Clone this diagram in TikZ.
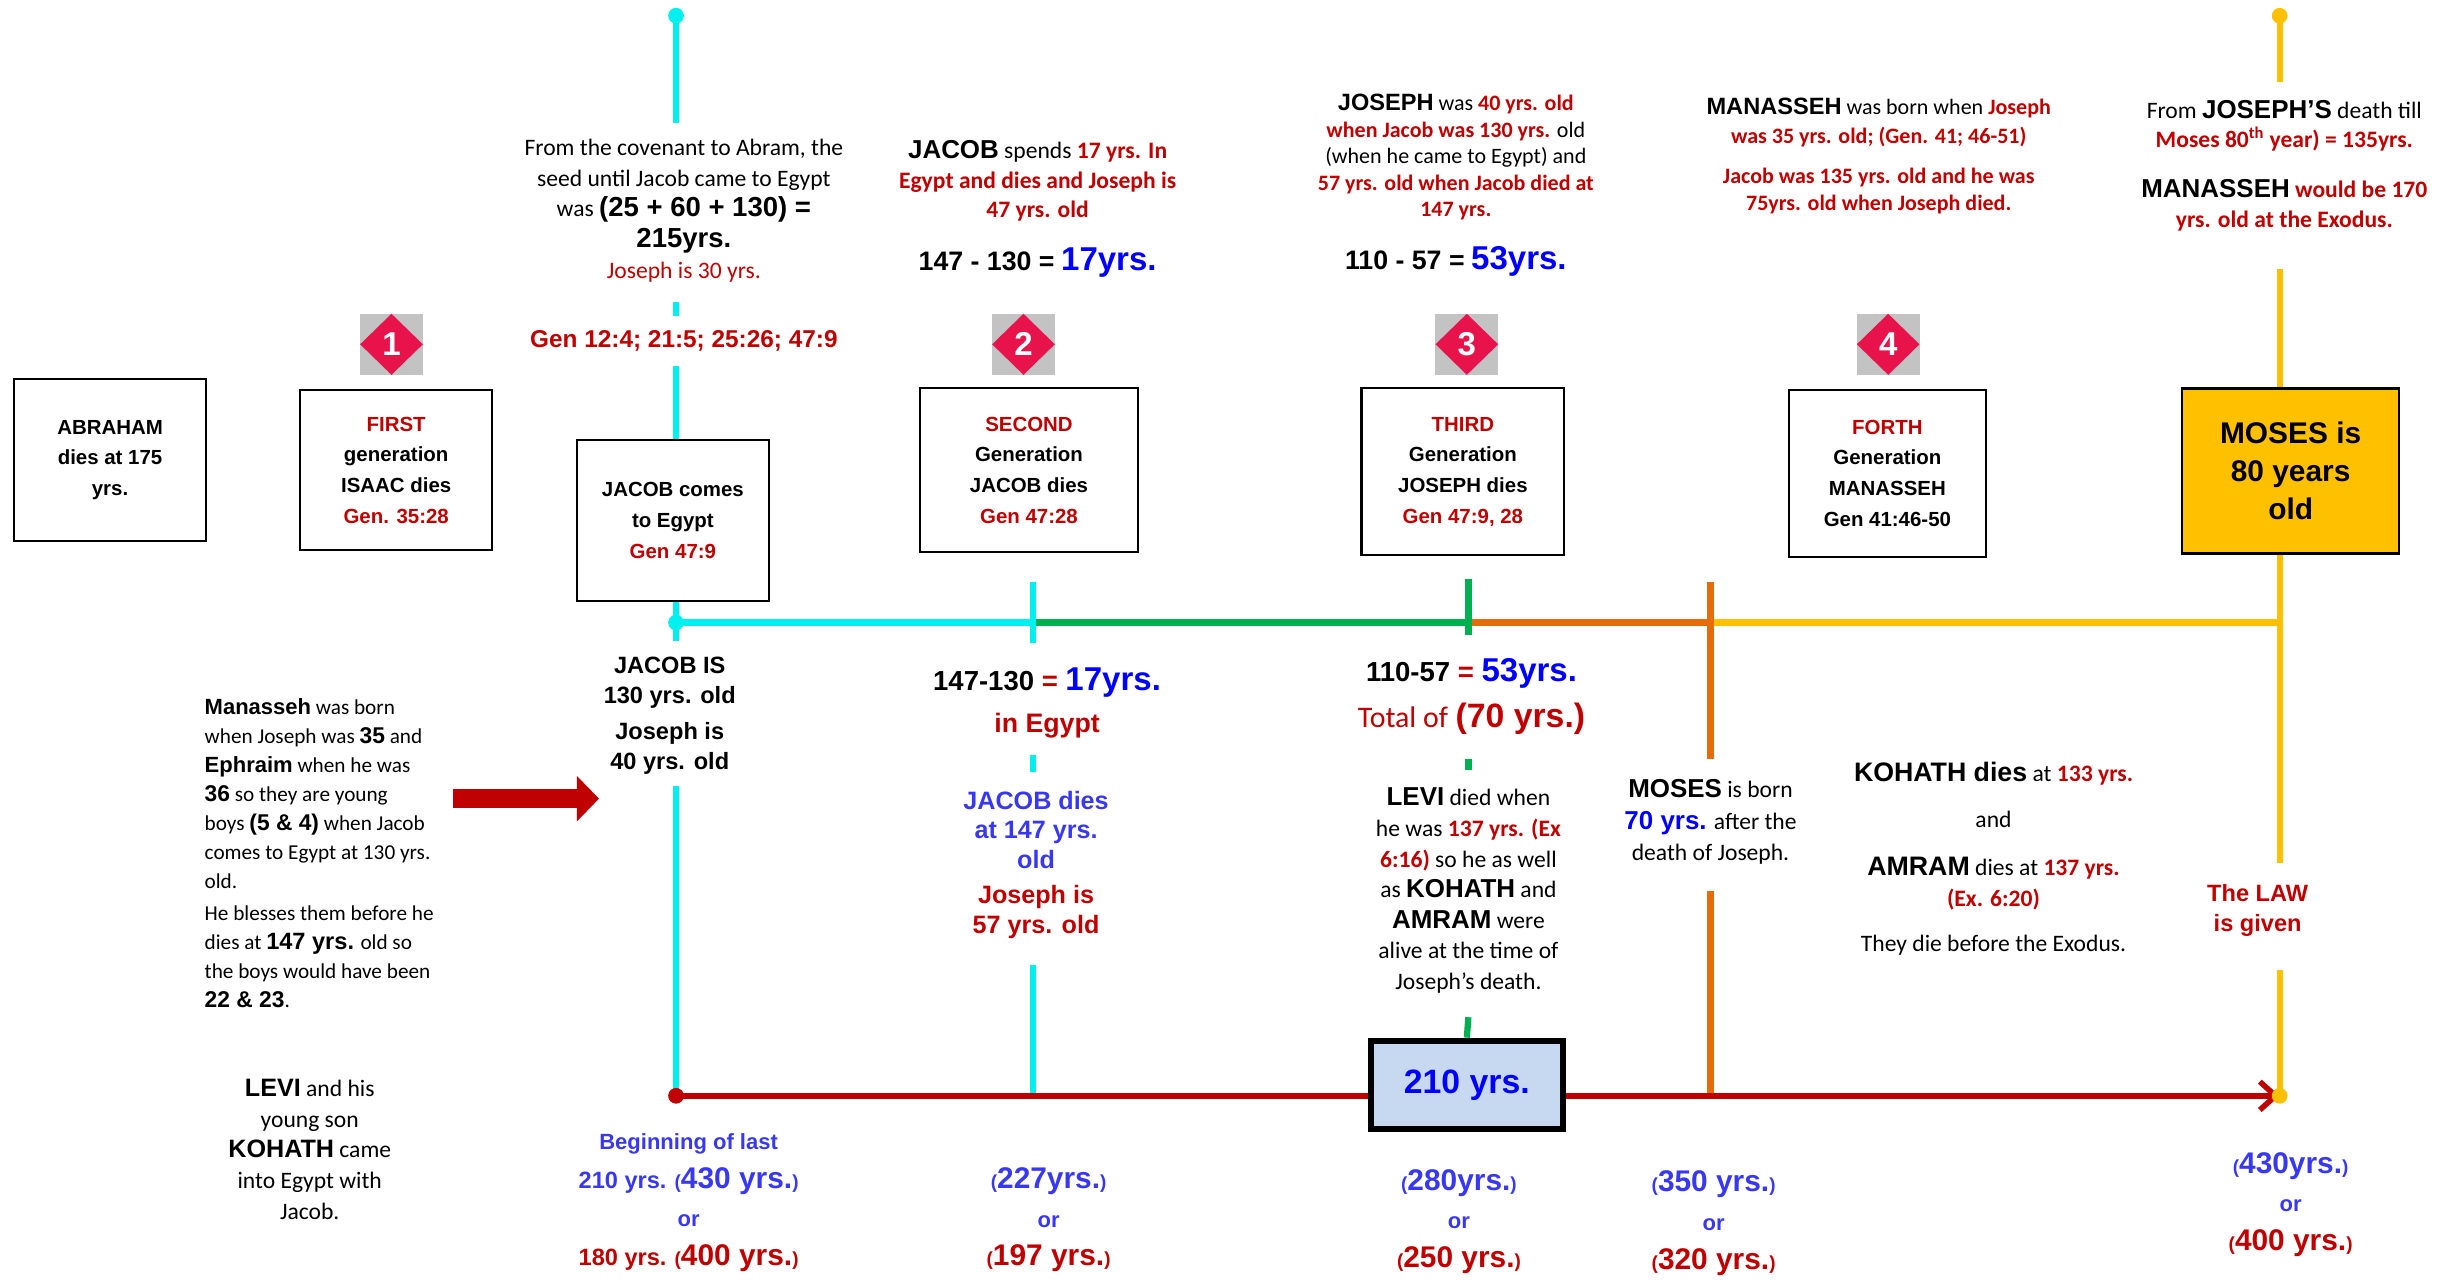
\documentclass[tikz,border=0pt]{standalone}
\usepackage{fontspec}
\setmainfont{Carlito}
\newfontfamily\arialfam{Liberation Sans}
\usetikzlibrary{positioning,shapes.geometric,arrows.meta}
\definecolor{tlred}{HTML}{C00000}
\definecolor{tlblue}{HTML}{0000FF}
\definecolor{tlblueb}{HTML}{3838F2}
\definecolor{tlcyan}{HTML}{00F0F0}
\definecolor{tlgreen}{HTML}{00B050}
\definecolor{tlorange}{HTML}{E46C0A}
\definecolor{tlyellow}{HTML}{FFC000}
\definecolor{tlbox}{HTML}{C6D9F1}
\definecolor{tlrose}{HTML}{E8134B}
\definecolor{tlgray}{HTML}{C3C3C3}
\newcommand\hb[1]{{\arialfam\bfseries #1}}
\newcommand\rd[1]{{\color{tlred}\bfseries #1}}
\newcommand\tsz[2]{{\fontsize{#1}{#1}\selectfont #2}}
\newcommand\pyr[1]{\tsz{12}{(}\tsz{19}{#1}\tsz{12}{)}}
\tikzset{
  note/.style={align=center, inner sep=0pt, font=\fontsize{15}{19.5}\selectfont},
  bnote/.style={align=center, inner sep=0pt, font=\arialfam\bfseries\fontsize{15}{19}\selectfont},
  genbox/.style={draw, line width=1.3pt, align=center, inner sep=0pt,
    font=\arialfam\bfseries\fontsize{13}{19.5}\selectfont},
  yrslbl/.style={align=center, inner sep=0pt, text=tlblueb,
    font=\arialfam\bfseries\fontsize{14}{24.5}\selectfont},
  badgesq/.style={fill=tlgray, minimum width=40, minimum height=39, inner sep=0pt},
  badge/.style={diamond, fill=tlrose, minimum width=40, minimum height=39, inner sep=0pt,
    text=white, font=\arialfam\bfseries\fontsize{21}{21}\selectfont},
  cyanln/.style={tlcyan, line width=4pt},
  greenln/.style={tlgreen, line width=4pt},
  orangeln/.style={tlorange, line width=4pt},
  yellowln/.style={tlyellow, line width=4pt},
  redln/.style={tlred, line width=3.5pt},
}
\begin{document}
\begin{tikzpicture}[x=1pt,y=-1pt]
  \useasboundingbox (0,0) rectangle (1566,814);
  \coordinate (ctop) at (430,10);
  \coordinate (ytop) at (1450,10);
  \coordinate (jn1) at (430,396);
  \coordinate (jn2) at (657,396);
  \coordinate (jn3) at (934,396);
  \coordinate (jn4) at (1088,396);
  \coordinate (jn5) at (1450,396);
  \coordinate (bt1) at (430,697);
  \coordinate (bt2) at (657,697);
  \coordinate (bt4) at (1088,697);
  \coordinate (bt5) at (1450,697);

  \node[genbox, minimum width=122, minimum height=103] (abraham) at (70,292.5) {ABRAHAM\\ dies at 175\\ yrs.};
  \node[genbox, minimum width=122, minimum height=102] (first) at (252,299) {\textcolor{tlred}{FIRST}\\ generation\\ ISAAC dies\\ \textcolor{tlred}{Gen. 35:28}};
  \node[genbox, minimum width=122, minimum height=102] (jacob) at (428,331) {JACOB comes\\ to Egypt\\ \textcolor{tlred}{Gen 47:9}};
  \node[genbox, minimum width=139, minimum height=104] (second) at (654.5,299) {\textcolor{tlred}{SECOND}\\ Generation\\ JACOB dies\\ \textcolor{tlred}{Gen 47:28}};
  \node[genbox, minimum width=129, minimum height=106] (third) at (930.5,300) {\textcolor{tlred}{THIRD}\\ Generation\\ JOSEPH dies\\ \textcolor{tlred}{Gen 47:9, 28}};
  \node[genbox, minimum width=125, minimum height=106] (forth) at (1200.5,301) {\textcolor{tlred}{FORTH}\\ Generation\\ MANASSEH\\ Gen 41:46-50};
  \node[genbox, fill=tlyellow, line width=1.5pt, minimum width=138, minimum height=105,
    font=\arialfam\bfseries\fontsize{19}{24}\selectfont] (moses) at (1457,299.5) {MOSES is\\ 80 years\\ old};
  \foreach \n/\x in {1/249,2/651,3/933,4/1201}{
    \node[badgesq] (sq\n) at (\x,219) {};
    \node[badge] (dm\n) at (\x,219) {\n};
  }

  \node[note] (cov) at (435,134) {From the covenant to Abram, the\\ seed until Jacob came to Egypt\\ was \hb{\tsz{17.5}{(25 + 60 + 130) =}}\\ \hb{\tsz{17.5}{215yrs.}}\\ {\color{tlred}Joseph is 30 yrs.}};
  \node[bnote, text=tlred, font=\arialfam\bfseries\fontsize{15.5}{19}\selectfont] (covref) at (435,217) {Gen 12:4; 21:5; 25:26; 47:9};
  \node[note, font=\fontsize{15}{19}\selectfont] (spends) at (660,115) {\hb{\tsz{16.5}{JACOB}} spends \rd{17 yrs. In}\\ \rd{Egypt and dies and Joseph is}\\ \rd{47 yrs. old}};
  \node[bnote] (sum17) at (660,167) {\tsz{17}{147 - 130 =} \textcolor{tlblue}{\tsz{21}{17yrs.}}};
  \node[note, font=\fontsize{14}{16.8}\selectfont] (joseph) at (926,100) {\hb{\tsz{15}{JOSEPH}} was \rd{40 yrs. old}\\ \rd{when Jacob was 130 yrs.} old\\ (when he came to Egypt) and\\ \rd{57 yrs. old when Jacob died at}\\ \rd{147 yrs.}};
  \node[bnote] (sum53) at (926,166) {\tsz{17}{110 - 57 =} \textcolor{tlblue}{\tsz{21}{53yrs.}}};
  \node[note, font=\fontsize{14}{18}\selectfont] (manas) at (1195,78) {\hb{\tsz{15}{MANASSEH}} was born when \rd{Joseph}\\ \rd{was 35 yrs. old; (Gen. 41; 46-51)}};
  \node[note, font=\fontsize{14}{17}\selectfont] (manas2) at (1195,121.5) {\rd{Jacob was 135 yrs. old and he was}\\ \rd{75yrs. old when Joseph died.}};
  \node[note, font=\fontsize{15}{18}\selectfont] (fromjo) at (1453,80) {From \hb{\tsz{16.5}{JOSEPH’S}} death till\\ \rd{Moses 80\textsuperscript{th} year) = 135yrs.}};
  \node[note, font=\fontsize{15}{19}\selectfont] (exodus) at (1453,130.5) {\hb{\tsz{16.5}{MANASSEH}} \rd{would be 170}\\ \rd{yrs. old at the Exodus.}};

  \node[note, align=left, anchor=west, font=\fontsize{13.5}{18.5}\selectfont] (boys) at (130,542.5) {\hb{\tsz{14}{Manasseh}} was born\\ when Joseph was \hb{\tsz{14.5}{35}} and\\ \hb{\tsz{14}{Ephraim}} when he was\\ \hb{\tsz{14.5}{36}} so they are young\\ boys \hb{\tsz{14.5}{(5 \& 4)}} when Jacob\\ comes to Egypt at 130 yrs.\\ old.\\[1.5pt] He blesses them before he\\ dies at \hb{\tsz{15}{147 yrs.}} old so\\ the boys would have been\\ \hb{\tsz{14.5}{22 \& 23}}.};
  \node[note] (levil) at (197,731) {\hb{\tsz{16}{LEVI}} and his\\ young son\\ \hb{\tsz{16}{KOHATH}} came\\ into Egypt with\\ Jacob.};
  \node[bnote] (jacis) at (426,455) {JACOB IS\\ 130 yrs. old\\[4pt] Joseph is\\ 40 yrs. old};
  \node[bnote, font=\arialfam\bfseries\fontsize{17.5}{27}\selectfont] (egypt17) at (666,447) {147-130 \textcolor{tlred}{=} \textcolor{tlblue}{\tsz{21}{17yrs.}}\\ \textcolor{tlred}{\tsz{17}{in Egypt}}};
  \node[bnote, font=\arialfam\bfseries\fontsize{16}{19}\selectfont] (jdies) at (659,550) {\textcolor{tlblueb}{JACOB dies}\\ \textcolor{tlblueb}{at 147 yrs.}\\ \textcolor{tlblueb}{old}\\[3pt] \textcolor{tlred}{Joseph is}\\ \textcolor{tlred}{57 yrs. old}};
  \node[bnote, font=\arialfam\bfseries\fontsize{17.5}{29}\selectfont] (tot70) at (936,443) {110-57 \textcolor{tlred}{=} \textcolor{tlblue}{\tsz{21}{53yrs.}}\\ \textcolor{tlred}{{\normalfont\tsz{19}{Total of}} \tsz{21.5}{(70 yrs.)}}};
  \node[note] (levi) at (934,566.5) {\hb{\tsz{16.5}{LEVI}} died when\\ he was \rd{137 yrs. (Ex}\\ \rd{6:16)} so he as well\\ as \hb{\tsz{16.5}{KOHATH}} and\\ \hb{\tsz{16.5}{AMRAM}} were\\ alive at the time of\\ Joseph’s death.};
  \node[note, font=\fontsize{15}{20}\selectfont] (mosesb) at (1088,523) {\hb{\tsz{16.5}{MOSES}} is born\\ \hb{\tsz{16.5}{\textcolor{tlblue}{70 yrs.}}} after the\\ death of Joseph.};
  \node[note] (kohath) at (1268,546) {\hb{\tsz{17}{KOHATH dies}} at \rd{133 yrs.}\\[10pt] and\\[11pt] \hb{\tsz{17}{AMRAM}} dies at \rd{137 yrs.}\\ \rd{(Ex. 6:20)}\\[9pt] They die before the Exodus.};
  \node[bnote, text=tlred] (law) at (1436,579) {The LAW\\ is given};

  \node[yrslbl] (yr1) at (438,765) {Beginning of last\\ \tsz{15}{210 yrs.} \pyr{430 yrs.}\\ or\\ \textcolor{tlred}{\tsz{15}{180 yrs.} \pyr{400 yrs.}}};
  \node[yrslbl] (yr2) at (667,776) {\pyr{227yrs.}\\ or\\ \textcolor{tlred}{\pyr{197 yrs.}}};
  \node[yrslbl] (yr3) at (928,777) {\pyr{280yrs.}\\ or\\ \textcolor{tlred}{\pyr{250 yrs.}}};
  \node[yrslbl] (yr4) at (1090,778) {\pyr{350 yrs.}\\ or\\ \textcolor{tlred}{\pyr{320 yrs.}}};
  \node[yrslbl] (yr5) at (1457,766) {\pyr{430yrs.}\\ or\\ \textcolor{tlred}{\pyr{400 yrs.}}};

  \draw[cyanln] (jn1) -- (jn2);
  \draw[greenln] (jn2) -- (jn3);
  \draw[orangeln] (jn3) -- (jn4);
  \draw[yellowln] (jn4) -- (jn5);

  \draw[cyanln] (ctop) -- (430,78) (430,192) -- (430,201) (430,233) -- (jacob.north -| jn1);
  \draw[cyanln] (jacob.south -| jn1) -- (jn1) -- (430,408) (430,500) -- (bt1);
  \draw[cyanln] (657,370) -- (jn2) -- (657,409) (657,480) -- (657,491) (657,614) -- (bt2);
  \draw[greenln] (934,368) -- (jn3) -- (934,404) (934,483) -- (934,490);
  \draw[orangeln] (1088,370) -- (jn4) -- (1088,483) (1088,567) -- (bt4);
  \draw[yellowln] (ytop) -- (1450,52) (1450,171) -- (moses.north -| jn5);
  \draw[yellowln] (moses.south -| jn5) -- (jn5) -- (1450,549) (1450,617) -- (bt5);

  \coordinate (arL) at (288,508);
  \coordinate (arR) at (381,508);
  \draw[tlred, line width=12.5pt, -{Triangle[length=14pt,width=28pt]}] (arL) -- (arR);

  \draw[redln, -{Straight Barb[length=10pt,width=18pt]}] (bt1) -- (bt5);
  \node[draw, line width=4pt, fill=tlbox, minimum width=122, minimum height=56, text=tlblue,
    font=\arialfam\bfseries\fontsize{21.5}{21.5}\selectfont] (box210) at (933,690) {210 yrs.};
  \draw[greenln] (934,647) -- (box210.north);

  \foreach \p/\c in {ctop/tlcyan,jn1/tlcyan,bt1/tlred,ytop/tlyellow,bt5/tlyellow}
    \fill[\c] (\p) circle (5pt);
\end{tikzpicture}
\end{document}
